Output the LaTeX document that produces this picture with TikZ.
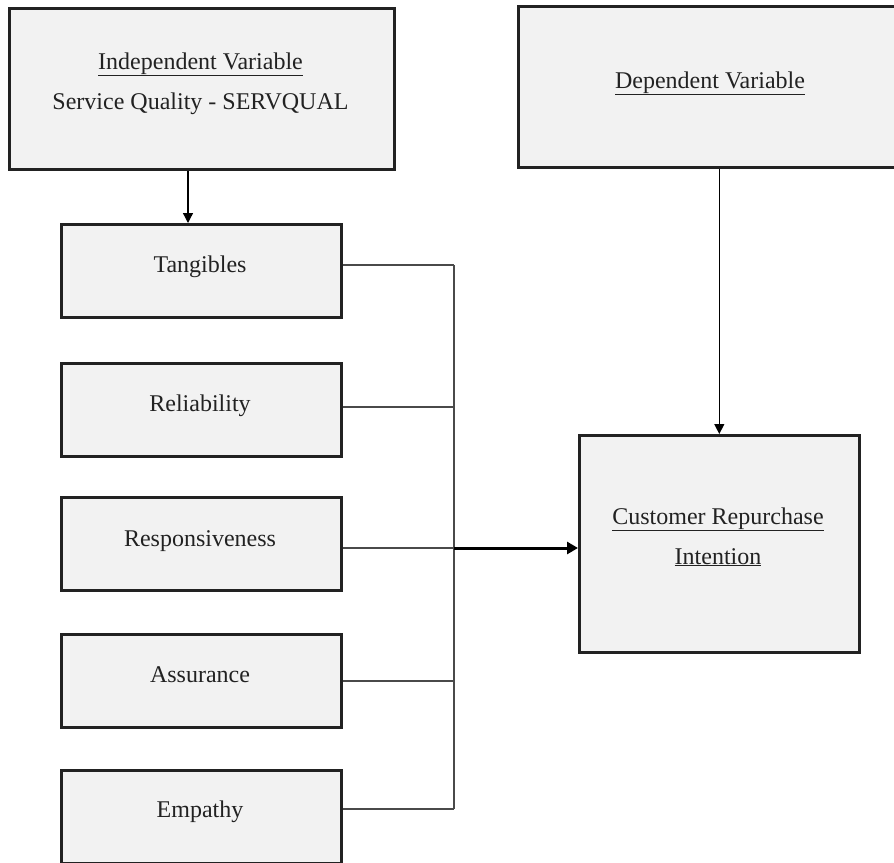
\documentclass[tikz,border=0pt]{standalone}
\usepackage{fontspec}
\setmainfont{Liberation Serif}
\usetikzlibrary{arrows.meta,calc}
\definecolor{boxfill}{HTML}{F2F2F2}
\definecolor{boxline}{HTML}{222222}
\definecolor{connline}{HTML}{4A4A4A}
\definecolor{txt}{HTML}{222222}
\begin{document}
\begin{tikzpicture}[x=1pt,y=-1pt,
  box/.style={draw=boxline,fill=boxfill,line width=2.6pt,rectangle,inner sep=0pt,anchor=north west},
  smallbox/.style={box,minimum width=280pt,minimum height=93pt},
  lbl/.style={anchor=base,inner sep=0pt,text=txt,font=\fontsize{24}{28}\selectfont},
  conn/.style={draw=connline,line width=1.4pt},
  arr/.style={draw=black,line width=1.3pt,-{Triangle[length=10pt,width=10pt]}},
  thickarr/.style={draw=black,line width=3pt,-{Triangle[length=11pt,width=12pt]}}
  ]
\useasboundingbox (0,0) rectangle (894,862);
% boxes
\node[box,minimum width=385pt,minimum height=161pt] (iv) at (8,7) {};
\node[box,minimum width=388pt,minimum height=161pt] (dv) at (517,5) {};
\node[smallbox] (tan) at (60,223) {};
\node[smallbox] (rel) at (60,362) {};
\node[smallbox] (res) at (60,496) {};
\node[smallbox] (ass) at (60,633) {};
\node[smallbox] (emp) at (60,769) {};
\node[box,minimum width=280pt,minimum height=217pt] (cri) at (578,434) {};
% texts
\node[lbl] (ivt1) at (200.5,69) {\underline{Independent Variable}};
\node[lbl] (ivt2) at (200.5,109) {Service Quality - SERVQUAL};
\node[lbl] (dvt) at (710,88) {\underline{Dependent Variable}};
\node[lbl] (tant) at (200,272) {Tangibles};
\node[lbl] (relt) at (200,411) {Reliability};
\node[lbl] (rest) at (200,546) {Responsiveness};
\node[lbl] (asst) at (200,682) {Assurance};
\node[lbl] (empt) at (200,817) {Empathy};
\node[lbl] (crit1) at (718,524) {\underline{Customer Repurchase}};
\node[lbl] (crit2) at (718,564) {\underline{Intention}};
% bus coordinates
\coordinate (j1) at (454,265);
\coordinate (j2) at (454,407);
\coordinate (j3) at (454,548);
\coordinate (j4) at (454,681);
\coordinate (j5) at (454,809);
% connectors
\draw[conn] (j1 -| tan.east) -- (j1);
\draw[conn] (j2 -| rel.east) -- (j2);
\draw[conn] (j3 -| res.east) -- (j3);
\draw[conn] (j4 -| ass.east) -- (j4);
\draw[conn] (j5 -| emp.east) -- (j5);
\draw[conn] (j1) -- (j5);
\draw[thickarr] (j3) -- (j3 -| cri.west);
\coordinate (ivout) at ([xshift=180pt]iv.south west);
\draw[arr] (ivout) -- (ivout |- tan.north);
\draw[arr] (dv.south -| cri.north) -- (cri.north);
\end{tikzpicture}
\end{document}
